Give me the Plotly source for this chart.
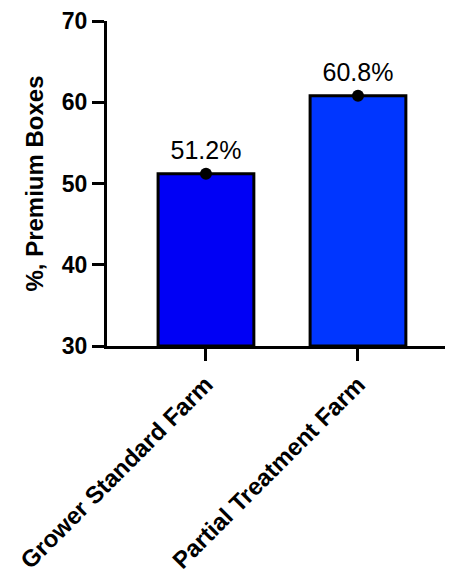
import plotly.graph_objects as go

categories = ["Grower Standard Farm", "Partial Treatment Farm"]
values = [51.2, 60.8]
labels = ["51.2%", "60.8%"]
bar_colors = ["#0000F5", "#0036FF"]
y_ticks = [30, 40, 50, 60, 70]
base_value = 30

fig = go.Figure()
fig.add_trace(go.Bar(
    x=categories, y=[v - base_value for v in values], base=base_value,
    marker=dict(color=bar_colors, line=dict(color="black", width=3)),
    width=0.63, showlegend=False, hoverinfo="skip",
))
fig.add_trace(go.Scatter(
    x=categories, y=values, mode="markers+text",
    marker=dict(color="black", size=12),
    text=labels, textposition="top center",
    textfont=dict(family="Liberation Sans, Arial", size=25, color="black"),
    showlegend=False, cliponaxis=False,
))
fig.update_layout(
    width=445, height=566,
    margin=dict(l=99, r=0, t=13, b=220),
    plot_bgcolor="white", paper_bgcolor="white",
    font=dict(family="Liberation Sans, Arial", color="black"),
)
fig.update_yaxes(
    range=[30, 70], tickvals=y_ticks,
    showline=True, linecolor="black", linewidth=3,
    ticks="outside", ticklen=12, tickwidth=3, tickcolor="black",
    showgrid=False, zeroline=False, ticklabeloverflow="allow",
    tickfont=dict(family="Liberation Sans, Arial", size=23, color="black", weight="bold"),
    title=dict(text="%, Premium Boxes", standoff=12,
               font=dict(family="Liberation Sans, Arial", size=24, color="black", weight="bold")),
)
fig.update_xaxes(
    range=[-0.651, 1.625],
    showline=True, linecolor="black", linewidth=3,
    ticks="outside", ticklen=12, tickwidth=3, tickcolor="black",
    showgrid=False, tickangle=-45, ticklabeloverflow="allow",
    tickfont=dict(family="Liberation Sans, Arial", size=24, color="black", weight="bold"),
)
fig.write_html("out.html")
